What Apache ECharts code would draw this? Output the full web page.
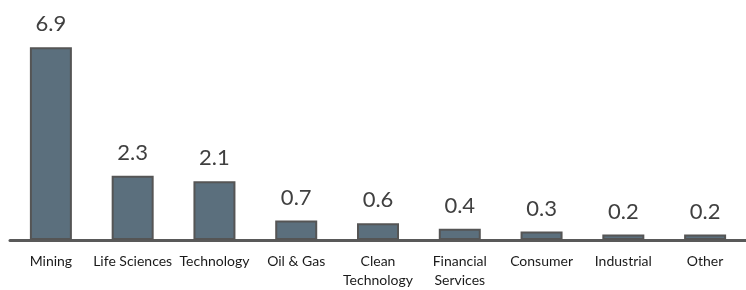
<!DOCTYPE html>
<html><head><meta charset="utf-8">
<script src="https://cdn.jsdelivr.net/npm/echarts@6/dist/echarts.min.js"></script>
<style>html,body{margin:0;padding:0;background:#fff}#c{width:746px;height:290px}</style>
</head><body><div id="c"></div>
<script>
var categories = ["Mining", "Life Sciences", "Technology", "Oil & Gas", "Clean\nTechnology", "Financial\nServices", "Consumer", "Industrial", "Other"];
var values = [6.9, 2.3, 2.1, 0.7, 0.6, 0.4, 0.3, 0.2, 0.2];

var chart = echarts.init(document.getElementById('c'), null, {renderer: 'canvas'});
chart.setOption({
  animation: false,
  grid: {left: 10, width: 741, top: 44.5, height: 197, containLabel: false},
  xAxis: {
    type: 'category', data: categories,
    axisLine: {lineStyle: {color: '#595959', width: 3}},
    axisTick: {show: false},
    axisLabel: {interval: 0, color: '#1a1a1a', fontFamily: 'Lato', fontSize: 14, lineHeight: 19, margin: 12}
  },
  yAxis: {type: 'value', min: 0, max: 7, show: false, splitLine: {show: false}},
  series: [{
    type: 'bar', data: values, barWidth: 42,
    itemStyle: {color: '#5b6f7d', borderColor: '#555555', borderWidth: 2},
    label: {show: true, position: 'top', distance: 12, color: '#404040', fontFamily: 'Lato', fontSize: 22,
      formatter: function(p){ return p.value.toFixed(1); }}
  }]
});
</script></body></html>
